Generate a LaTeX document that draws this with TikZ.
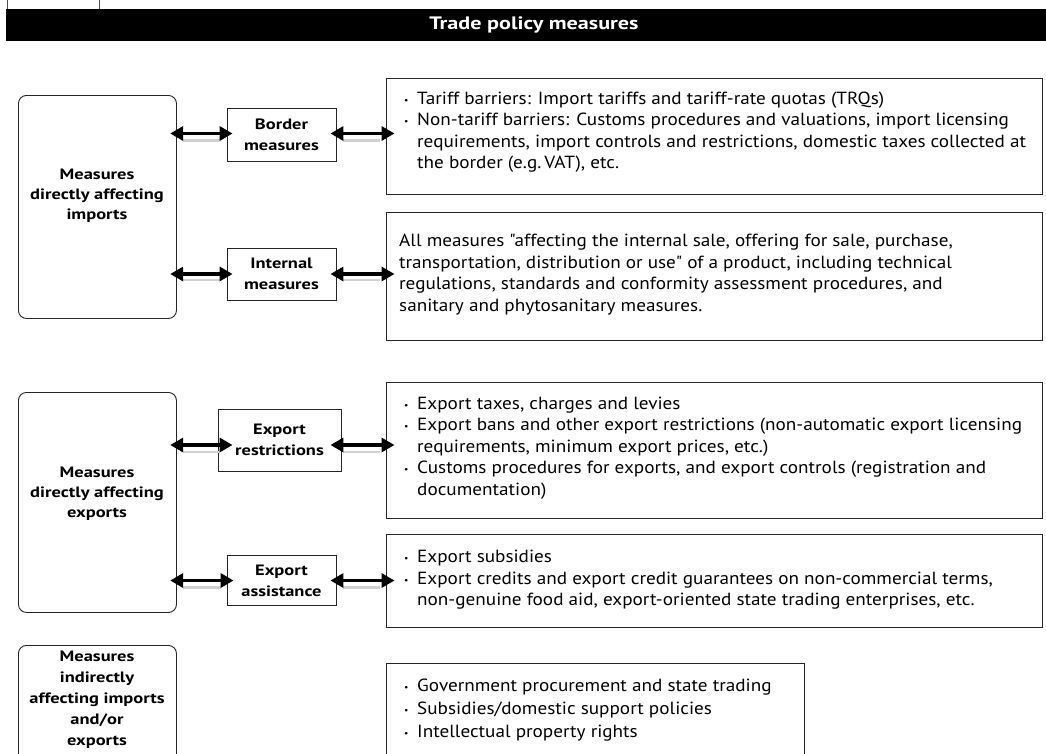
\documentclass[tikz,border=0pt]{standalone}
\usepackage{fontspec}
\setmainfont{PT Sans}
\newfontfamily\bodyfont[FakeStretch=1.09]{PT Sans}
\newfontfamily\boldfont[FakeStretch=1.23]{PT Sans}
\usetikzlibrary{arrows.meta,calc}
\newcommand\bul{\makebox[13pt][l]{\raisebox{1pt}{\fontsize{9}{9}\selectfont\textbullet}}}
\newcommand\ind{\hspace*{13pt}}
\begin{document}
\begin{tikzpicture}[x=1pt,y=-1pt,
  catbox/.style={draw=black!85, line width=0.9pt, rounded corners=8pt, inner sep=0pt, anchor=north west},
  labeltext/.style={inner sep=0pt, align=center, font=\boldfont\fontsize{15}{20}\selectfont\bfseries},
  midbox/.style={draw=black!85, line width=0.9pt, inner sep=0pt, align=center, font=\boldfont\fontsize{15}{21}\selectfont\bfseries},
  descbox/.style={draw=black!85, line width=0.9pt, inner sep=0pt, anchor=north west},
  desctext/.style={inner sep=0pt, anchor=west, align=left, font=\bodyfont\fontsize{17.6}{21.4}\selectfont},
  widetext/.style={inner sep=0pt, anchor=west, align=left, font=\bodyfont\fontsize{17.6}{23}\selectfont},
  dblarrow/.style={line width=3.5pt, {Triangle[length=13pt,width=14pt]}-{Triangle[length=13pt,width=14pt]}},
  shadowline/.style={draw=black!18, line width=2.5pt},
]
\path[use as bounding box] (0,0) rectangle (1046,753);
\clip (0,0) rectangle (1046,753);

% figure tab (cut off at top)
\draw[black!70, line width=0.8pt] (7,0) -- (7,9) (99,0) -- (99,9);

% title bar
\node[fill=black, minimum width=1040pt, minimum height=32pt, anchor=north west, inner sep=0pt] (bar) at (6,9) {};
\node[text=white, inner sep=0pt, font=\boldfont\fontsize{18}{20}\selectfont\bfseries] (title) at (534,25) {Trade policy measures};

% category boxes
\node[catbox, minimum width=158pt, minimum height=223pt] (imp) at (18,95) {};
\node[labeltext] (impl) at (97,196) {Measures\\directly affecting\\imports};
\node[catbox, minimum width=158pt, minimum height=220pt] (exp) at (18,392) {};
\node[labeltext] (expl) at (97,494) {Measures\\directly affecting\\exports};
\node[catbox, minimum width=158pt, minimum height=150pt] (ind) at (18,645) {};
\node[labeltext, font=\boldfont\fontsize{15}{21}\selectfont\bfseries] (indl) at (97,700) {Measures\\indirectly\\affecting imports\\and/or\\exports};

% middle boxes
\node[midbox, minimum width=109pt, minimum height=53pt] (bor) at (281.5,134.5) {Border\\measures};
\node[midbox, minimum width=109pt, minimum height=52pt] (int) at (281.5,274) {Internal\\measures};
\node[midbox, minimum width=123pt, minimum height=62pt] (exr) at (279.5,440) {Export\\restrictions};
\node[midbox, minimum width=109pt, minimum height=50pt] (exa) at (281.5,580.5) {Export\\assistance};

% description boxes
\node[descbox, minimum width=656pt, minimum height=116pt] (d1) at (386,78) {};
\node[descbox, minimum width=656pt, minimum height=128pt] (d2) at (386,212) {};
\node[descbox, minimum width=656pt, minimum height=136pt] (d3) at (386,382) {};
\node[descbox, minimum width=656pt, minimum height=93pt] (d4) at (386,534) {};
\node[descbox, minimum width=418pt, minimum height=130pt] (d5) at (386,663) {};

\node[desctext] (t1) at (404,132) {\bul Tariff barriers: Import tariffs and tariff-rate quotas (TRQs)\\
\bul Non-tariff barriers: Customs procedures and valuations, import licensing\\
\ind requirements, import controls and restrictions, domestic taxes collected at\\
\ind the border (e.g.\,VAT), etc.};
\node[desctext] (t2) at (399,274.5) {All measures "affecting the internal sale, offering for sale, purchase,\\
transportation, distribution or use" of a product, including technical\\
regulations, standards and conformity assessment procedures, and\\
sanitary and phytosanitary measures.};
\node[desctext] (t3) at (404,448) {\bul Export taxes, charges and levies\\
\bul Export bans and other export restrictions (non-automatic export licensing\\
\ind requirements, minimum export prices, etc.)\\
\bul Customs procedures for exports, and export controls (registration and\\
\ind documentation)};
\node[desctext] (t4) at (404,580) {\bul Export subsidies\\
\bul Export credits and export credit guarantees on non-commercial terms,\\
\ind non-genuine food aid, export-oriented state trading enterprises, etc.};
\node[widetext] (t5) at (404,710) {\bul Government procurement and state trading\\
\bul Subsidies/domestic support policies\\
\bul Intellectual property rights};

% row 1: imports / border
\draw[shadowline, shorten <=6.3pt, shorten >=7pt] ($(bor.west -| imp.east)+(0,6)$) -- ($(bor.west)+(0,6)$);
\draw[shadowline, shorten <=7pt, shorten >=6pt] ($(bor.east)+(0,6)$) -- ($(bor.east -| d1.west)+(0,6)$);
\draw[dblarrow, shorten <=-6.7pt, shorten >=-6pt] ($(bor.west -| imp.east)+(0,-1)$) -- ($(bor.west)+(0,-1)$);
\draw[dblarrow, shorten <=-6pt, shorten >=-8.5pt] ($(bor.east)+(0,-1)$) -- ($(bor.east -| d1.west)+(0,-1)$);

% row 2: imports / internal
\draw[shadowline, shorten <=6.3pt, shorten >=7pt] ($(int.west -| imp.east)+(0,6)$) -- ($(int.west)+(0,6)$);
\draw[shadowline, shorten <=7pt, shorten >=6pt] ($(int.east)+(0,6)$) -- ($(int.east -| d2.west)+(0,6)$);
\draw[dblarrow, shorten <=-6.7pt, shorten >=-6pt] (int.west -| imp.east) -- (int.west);
\draw[dblarrow, shorten <=-6pt, shorten >=-8.5pt] (int.east) -- (int.east -| d2.west);

% row 3: exports / restrictions
\draw[shadowline, shorten <=6.3pt, shorten >=-2pt] ($(exr.west -| exp.east)+(0,12)$) -- ($(exr.west)+(0,12)$);
\draw[shadowline, shorten <=2pt, shorten >=6pt] ($(exr.east)+(0,12)$) -- ($(exr.east -| d3.west)+(0,12)$);
\draw[dblarrow, shorten <=-6.7pt, shorten >=-15pt] ($(exr.west -| exp.east)+(0,5)$) -- ($(exr.west)+(0,5)$);
\draw[dblarrow, shorten <=-11pt, shorten >=-8.5pt] ($(exr.east)+(0,5)$) -- ($(exr.east -| d3.west)+(0,5)$);

% row 4: exports / assistance
\draw[shadowline, shorten <=6.3pt, shorten >=6pt] ($(exa.west -| exp.east)+(0,7)$) -- ($(exa.west)+(0,7)$);
\draw[shadowline, shorten <=7pt, shorten >=6pt] ($(exa.east)+(0,7)$) -- ($(exa.east -| d4.west)+(0,7)$);
\draw[dblarrow, shorten <=-6.7pt, shorten >=-7pt] (exa.west -| exp.east) -- (exa.west);
\draw[dblarrow, shorten <=-6pt, shorten >=-8.5pt] (exa.east) -- (exa.east -| d4.west);
\end{tikzpicture}
\end{document}
